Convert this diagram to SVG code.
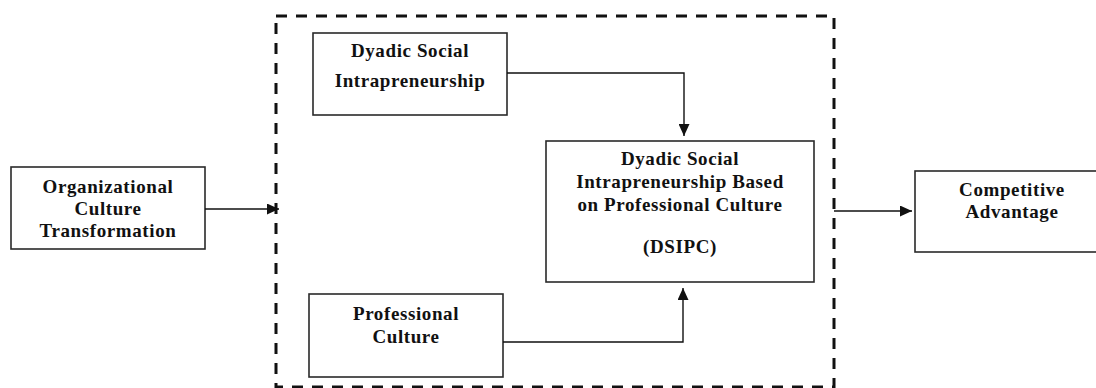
<svg xmlns="http://www.w3.org/2000/svg" width="1096" height="388" viewBox="0 0 1096 388">
<style>
.box{fill:#fff;stroke:#2a2a2a;stroke-width:1.6}
.t{font-family:"Liberation Serif","Times New Roman",serif;font-weight:bold;font-size:19px;letter-spacing:0.6px;fill:#111;text-anchor:middle}
.c{fill:none;stroke:#111;stroke-width:1.4}
.frame{fill:none;stroke:#111;stroke-width:3;stroke-dasharray:11 9}
</style>
<defs>
<marker id="ah" markerUnits="userSpaceOnUse" markerWidth="13" markerHeight="11" refX="12" refY="5.5" orient="auto">
<path d="M0,0 L12,5.5 L0,11 Z" fill="#111"/>
</marker>
</defs>
<rect width="1096" height="388" fill="#fff"/>
<g id="frame">
<rect class="frame" x="276" y="16" width="558" height="371"/>
</g>
<g id="org">
<rect class="box" x="11" y="167" width="194" height="82"/>
<text class="t" x="108" y="193">Organizational</text>
<text class="t" x="108" y="215">Culture</text>
<text class="t" x="108" y="237">Transformation</text>
</g>
<g id="dsi">
<rect class="box" x="313" y="33" width="194" height="82"/>
<text class="t" x="410" y="57">Dyadic Social</text>
<text class="t" x="410" y="87">Intrapreneurship</text>
</g>
<g id="dsipc">
<rect class="box" x="546" y="141" width="268" height="141"/>
<text class="t" x="680" y="165">Dyadic Social</text>
<text class="t" x="680" y="188">Intrapreneurship Based</text>
<text class="t" x="680" y="211">on Professional Culture</text>
<text class="t" x="680" y="253">(DSIPC)</text>
</g>
<g id="prof">
<rect class="box" x="309" y="294" width="194" height="83"/>
<text class="t" x="406" y="320">Professional</text>
<text class="t" x="406" y="343">Culture</text>
</g>
<g id="comp">
<rect class="box" x="915" y="171" width="196" height="81"/>
<text class="t" x="1012" y="196">Competitive</text>
<text class="t" x="1012" y="218">Advantage</text>
</g>
<g id="connectors">
<path class="c" d="M205,209 H279" marker-end="url(#ah)"/>
<path class="c" d="M507,73 H684 V136" marker-end="url(#ah)" stroke="#444"/>
<path class="c" d="M503,342 H683 V288" marker-end="url(#ah)"/>
<path class="c" d="M834,211 H912" marker-end="url(#ah)"/>
</g>
</svg>
